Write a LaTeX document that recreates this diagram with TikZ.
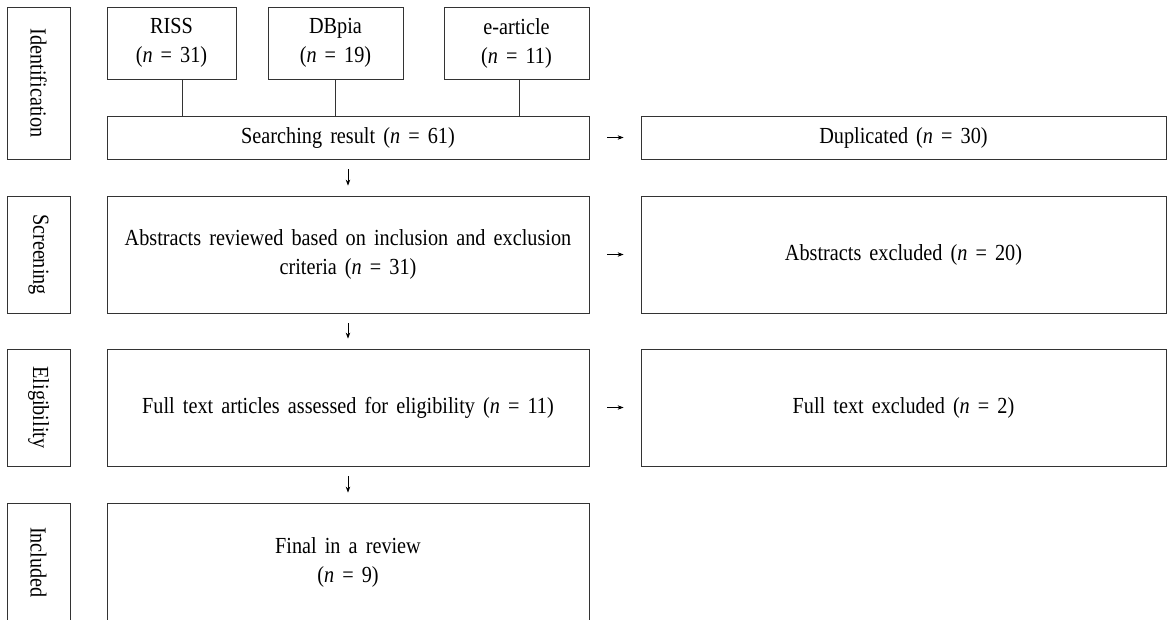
\documentclass[tikz,border=0pt]{standalone}
\usepackage{fontspec}
\setmainfont{Liberation Serif}[FakeStretch=0.88, WordSpace=1.6]
\usetikzlibrary{arrows.meta}
\tikzset{
  box/.style={draw=black!80, line width=0.8pt, inner sep=0pt, align=center,
    font=\fontsize{23}{29}\selectfont},
  labbox/.style={box, rotate=-90},
  arr/.style={-{Stealth[length=6pt,width=4.5pt]}, line width=0.8pt, draw=black},
  conn/.style={line width=0.8pt, draw=black!80},
}
\begin{document}
\begin{tikzpicture}[x=1pt, y=-1pt]
\useasboundingbox (0,0) rectangle (1167,619);
% stage labels
\node[labbox, minimum width=152pt, minimum height=63pt] (lab1) at (38.5,83) {Identification};
\node[labbox, minimum width=117pt, minimum height=63pt] (lab2) at (38.5,254.5) {Screening};
\node[labbox, minimum width=117pt, minimum height=63pt] (lab3) at (38.5,407.5) {Eligibility};
\node[labbox, minimum width=119pt, minimum height=63pt] (lab4) at (38.5,562.5) {Included};
% sources
\node[box, minimum width=129pt, minimum height=72pt] (riss) at (171.5,43) {RISS\\(\textit{n} = 31)};
\node[box, minimum width=135pt, minimum height=72pt] (dbpia) at (335.5,43) {DBpia\\(\textit{n} = 19)};
\node[box, minimum width=145pt, minimum height=72pt] (eart) at (516.5,43) {e-article\\(\textit{n} = 11)};
% main column
\node[box, minimum width=482pt, minimum height=43pt] (search) at (348,137.5) {Searching result (\textit{n} = 61)};
\node[box, minimum width=482pt, minimum height=117pt] (abs) at (348,254.5) {Abstracts reviewed based on inclusion and exclusion\\criteria (\textit{n} = 31)};
\node[box, minimum width=482pt, minimum height=117pt] (full) at (348,407.5) {Full text articles assessed for eligibility (\textit{n} = 11)};
\node[box, minimum width=482pt, minimum height=119pt] (final) at (348,562.5) {Final in a review\\(\textit{n} = 9)};
% right column
\node[box, minimum width=525pt, minimum height=43pt] (dup) at (903.5,137.5) {Duplicated (\textit{n} = 30)};
\node[box, minimum width=525pt, minimum height=117pt] (absx) at (903.5,254.5) {Abstracts excluded (\textit{n} = 20)};
\node[box, minimum width=525pt, minimum height=117pt] (fullx) at (903.5,407.5) {Full text excluded (\textit{n} = 2)};
% source connectors
\draw[conn] ([xshift=10.5pt]riss.south) -- ([xshift=10.5pt]riss.south |- search.north);
\draw[conn] (dbpia.south) -- (dbpia.south |- search.north);
\draw[conn] ([xshift=2.5pt]eart.south) -- ([xshift=2.5pt]eart.south |- search.north);
% down arrows
\draw[arr] ([yshift=-10pt]search.south) -- ([yshift=10pt]abs.north);
\draw[arr] ([yshift=-10pt]abs.south) -- ([yshift=10pt]full.north);
\draw[arr] ([yshift=-10pt]full.south) -- ([yshift=10pt]final.north);
% right arrows
\draw[arr] ([xshift=18pt]search.east) -- ([xshift=-17pt]dup.west);
\draw[arr] ([xshift=18pt]abs.east) -- ([xshift=-17pt]absx.west);
\draw[arr] ([xshift=18pt]full.east) -- ([xshift=-17pt]fullx.west);
\end{tikzpicture}
\end{document}
